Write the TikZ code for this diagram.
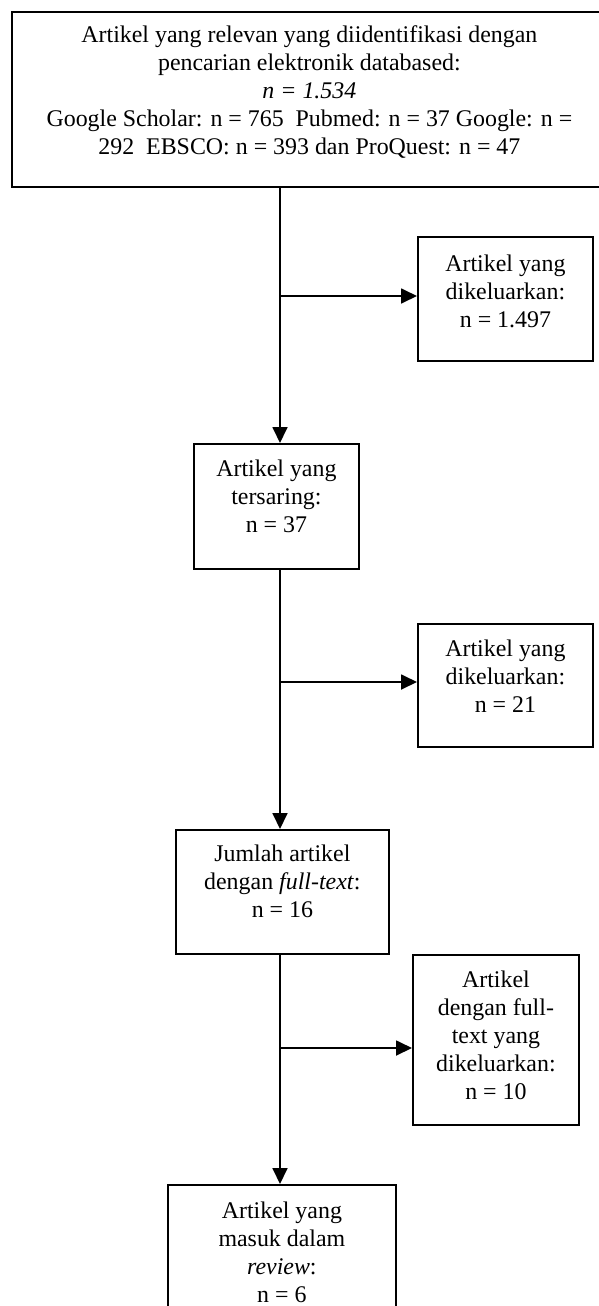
\documentclass[tikz,border=0pt]{standalone}
\usepackage{fontspec}
\setmainfont{Liberation Serif}
\usetikzlibrary{arrows.meta,calc}
\tikzset{
  box/.style={draw, line width=1.8pt, rectangle, inner sep=0pt, anchor=north west},
  txt/.style={inner sep=0pt, align=center, anchor=north, font=\fontsize{23.9pt}{28pt}\selectfont},
  arr/.style={line width=1.8pt, -{Triangle[length=16pt,width=15pt]}}
}
\begin{document}
\begin{tikzpicture}[x=1pt,y=-1pt]
\useasboundingbox (0,0) rectangle (598,1306);
% boxes
\node[box, minimum width=595pt, minimum height=175pt] (b1) at (11,11) {};
\node[box, minimum width=175pt, minimum height=124pt] (b2) at (417,236) {};
\node[box, minimum width=165pt, minimum height=125pt] (b3) at (193,443) {};
\node[box, minimum width=175pt, minimum height=123pt] (b4) at (417,623) {};
\node[box, minimum width=213pt, minimum height=124pt] (b5) at (175,829) {};
\node[box, minimum width=166pt, minimum height=170pt] (b6) at (412,954) {};
\node[box, minimum width=228pt, minimum height=140pt] (b7) at (167,1184) {};
% texts
\node[txt] (t1) at ([yshift=-14pt]b1.north) {Artikel yang relevan yang diidentifikasi dengan\\pencarian elektronik databased:\\\textit{n = 1.534}\\Google Scholar: n = 765\ \ Pubmed: n = 37 Google: n =\\292\ \ EBSCO: n = 393 dan ProQuest: n = 47};
\node[txt] (t2) at ([yshift=-19pt]b2.north) {Artikel yang\\dikeluarkan:\\n = 1.497};
\node[txt] (t3) at ([yshift=-17pt]b3.north) {Artikel yang\\tersaring:\\n = 37};
\node[txt] (t4) at ([yshift=-17pt]b4.north) {Artikel yang\\dikeluarkan:\\n = 21};
\node[txt] (t5) at ([yshift=-16pt]b5.north) {Jumlah artikel\\dengan \textit{full-text}:\\n = 16};
\node[txt] (t6) at ([yshift=-17pt]b6.north) {Artikel\\dengan full-\\text yang\\dikeluarkan:\\n = 10};
\node[txt] (t7) at ([yshift=-18pt]b7.north) {Artikel yang\\masuk dalam\\\textit{review}:\\n = 6};
% spine and junctions
\coordinate (sp) at (280,0);
\coordinate (j1) at (280,296);
\coordinate (j2) at (280,682);
\coordinate (j3) at (280,1048);
\draw[arr] (b1.south -| sp) -- (b3.north -| sp);
\draw[arr] (b3.south -| sp) -- (b5.north -| sp);
\draw[arr] (b5.south -| sp) -- (b7.north -| sp);
\draw[arr] (j1) -- (j1 -| b2.west);
\draw[arr] (j2) -- (j2 -| b4.west);
\draw[arr] (j3) -- (j3 -| b6.west);
\end{tikzpicture}
\end{document}
